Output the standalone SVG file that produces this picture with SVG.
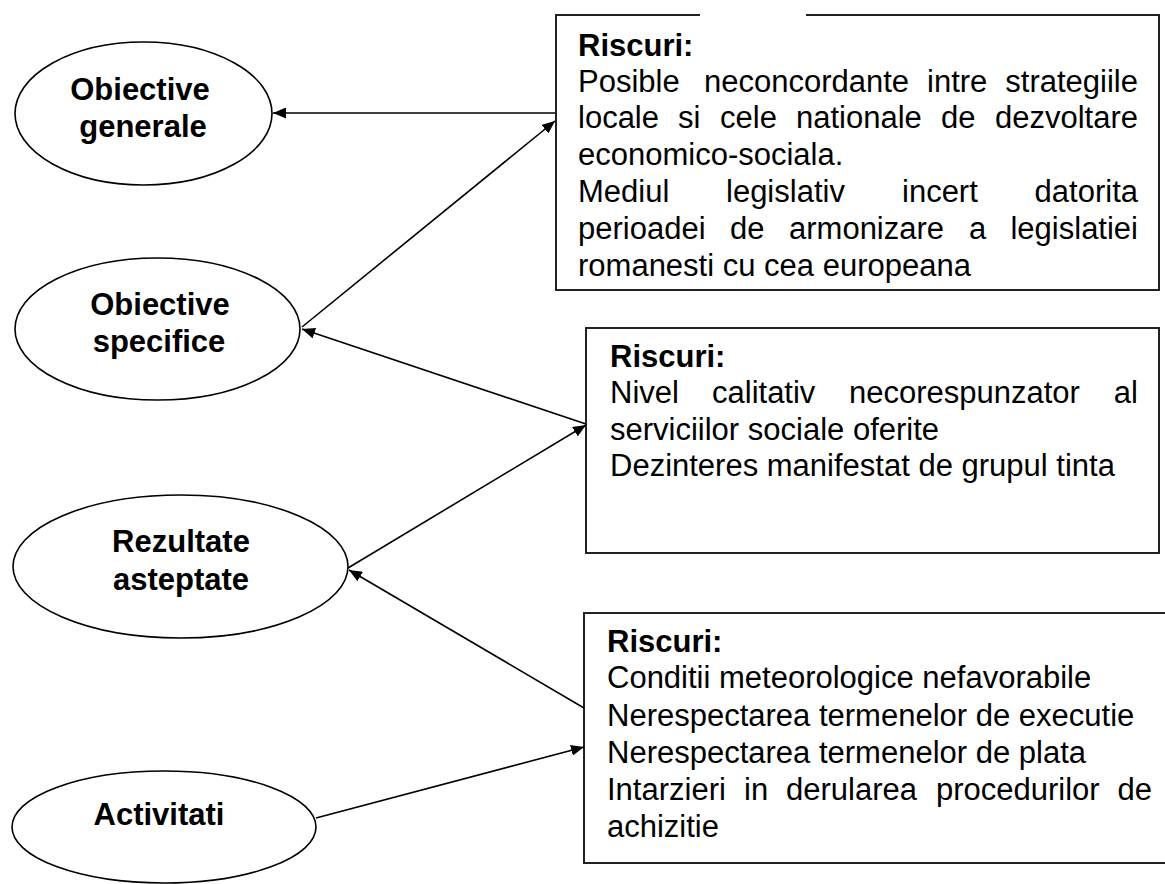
<svg xmlns="http://www.w3.org/2000/svg" width="1165" height="884" viewBox="0 0 1165 884">
<style>
.bg{fill:#fff}
.ell{fill:#fff;stroke:#000;stroke-width:1.6}
.box{fill:#fff;stroke:#222;stroke-width:2}
.lbl{font-family:"Liberation Sans",Arial,sans-serif;font-weight:bold;font-size:31px;fill:#000;text-anchor:middle}
.hd{font-family:"Liberation Sans",Arial,sans-serif;font-weight:bold;font-size:31px;fill:#000}
.tx{font-family:"Liberation Sans",Arial,sans-serif;font-size:31px;fill:#000}
.con{stroke:#000;stroke-width:1.6;fill:none;marker-end:url(#ah)}
</style>
<defs>
<marker id="ah" markerUnits="userSpaceOnUse" markerWidth="14" markerHeight="11" refX="13" refY="5.5" orient="auto">
<path d="M0,0 L13,5.5 L0,11 z" fill="#000"/>
</marker>
</defs>
<rect class="bg" x="0" y="0" width="1165" height="884"/>

<g id="node-obiective-generale">
<ellipse class="ell" cx="143.5" cy="113.5" rx="128.5" ry="71.5"/>
<text class="lbl" x="140" y="100">Obiective</text>
<text class="lbl" x="143" y="137">generale</text>
</g>

<g id="node-obiective-specifice">
<ellipse class="ell" cx="157.5" cy="329" rx="142.5" ry="71"/>
<text class="lbl" x="160" y="315">Obiective</text>
<text class="lbl" x="159" y="352">specifice</text>
</g>

<g id="node-rezultate">
<ellipse class="ell" cx="180.5" cy="566.5" rx="167.5" ry="71.5"/>
<text class="lbl" x="181" y="552">Rezultate</text>
<text class="lbl" x="181" y="590">asteptate</text>
</g>

<g id="node-activitati">
<ellipse class="ell" cx="164" cy="827" rx="152" ry="56"/>
<text class="lbl" x="159" y="825">Activitati</text>
</g>

<g id="node-riscuri-1">
<rect class="box" x="556" y="15" width="603" height="275"/>
<line x1="700" y1="15" x2="806" y2="15" stroke="#fff" stroke-width="4"/>
<text class="hd" x="578" y="56">Riscuri:</text>
<text class="tx" y="92"><tspan x="578">Posible</tspan><tspan x="704">neconcordante</tspan><tspan x="927">intre</tspan><tspan x="1138" text-anchor="end">strategiile</tspan></text>
<text class="tx" y="128"><tspan x="578">locale</tspan><tspan x="678">si</tspan><tspan x="720">cele</tspan><tspan x="796">nationale</tspan><tspan x="941">de</tspan><tspan x="1138" text-anchor="end">dezvoltare</tspan></text>
<text class="tx" x="578" y="165">economico-sociala.</text>
<text class="tx" y="202"><tspan x="578">Mediul</tspan><tspan x="726">legislativ</tspan><tspan x="902">incert</tspan><tspan x="1138" text-anchor="end">datorita</tspan></text>
<text class="tx" y="239"><tspan x="578">perioadei</tspan><tspan x="730">de</tspan><tspan x="789">armonizare</tspan><tspan x="969">a</tspan><tspan x="1138" text-anchor="end">legislatiei</tspan></text>
<text class="tx" x="578" y="276">romanesti cu cea europeana</text>
</g>

<g id="node-riscuri-2">
<rect class="box" x="586" y="328" width="573" height="225"/>
<text class="hd" x="610" y="367">Riscuri:</text>
<text class="tx" y="403"><tspan x="610">Nivel</tspan><tspan x="712">calitativ</tspan><tspan x="849">necorespunzator</tspan><tspan x="1138" text-anchor="end">al</tspan></text>
<text class="tx" x="610" y="440">serviciilor sociale oferite</text>
<text class="tx" x="610" y="476">Dezinteres manifestat de grupul tinta</text>
</g>

<g id="node-riscuri-3">
<path class="box" d="M1170,613 H584 V863 H1170"/>
<text class="hd" x="607" y="652">Riscuri:</text>
<text class="tx" x="607" y="688">Conditii meteorologice nefavorabile</text>
<text class="tx" x="607" y="726">Nerespectarea termenelor de executie</text>
<text class="tx" x="607" y="763">Nerespectarea termenelor de plata</text>
<text class="tx" y="800"><tspan x="607">Intarzieri</tspan><tspan x="744">in</tspan><tspan x="786">derularea</tspan><tspan x="936">procedurilor</tspan><tspan x="1152" text-anchor="end">de</tspan></text>
<text class="tx" x="607" y="837">achizitie</text>
</g>

<g id="connectors">
<line class="con" x1="555" y1="113" x2="273" y2="113"/>
<line class="con" x1="302" y1="327" x2="555" y2="121"/>
<line class="con" x1="586" y1="424" x2="302" y2="329"/>
<line class="con" x1="348" y1="568" x2="586" y2="425"/>
<line class="con" x1="584" y1="708" x2="349" y2="570"/>
<line class="con" x1="316" y1="818" x2="584" y2="747"/>
</g>
</svg>
